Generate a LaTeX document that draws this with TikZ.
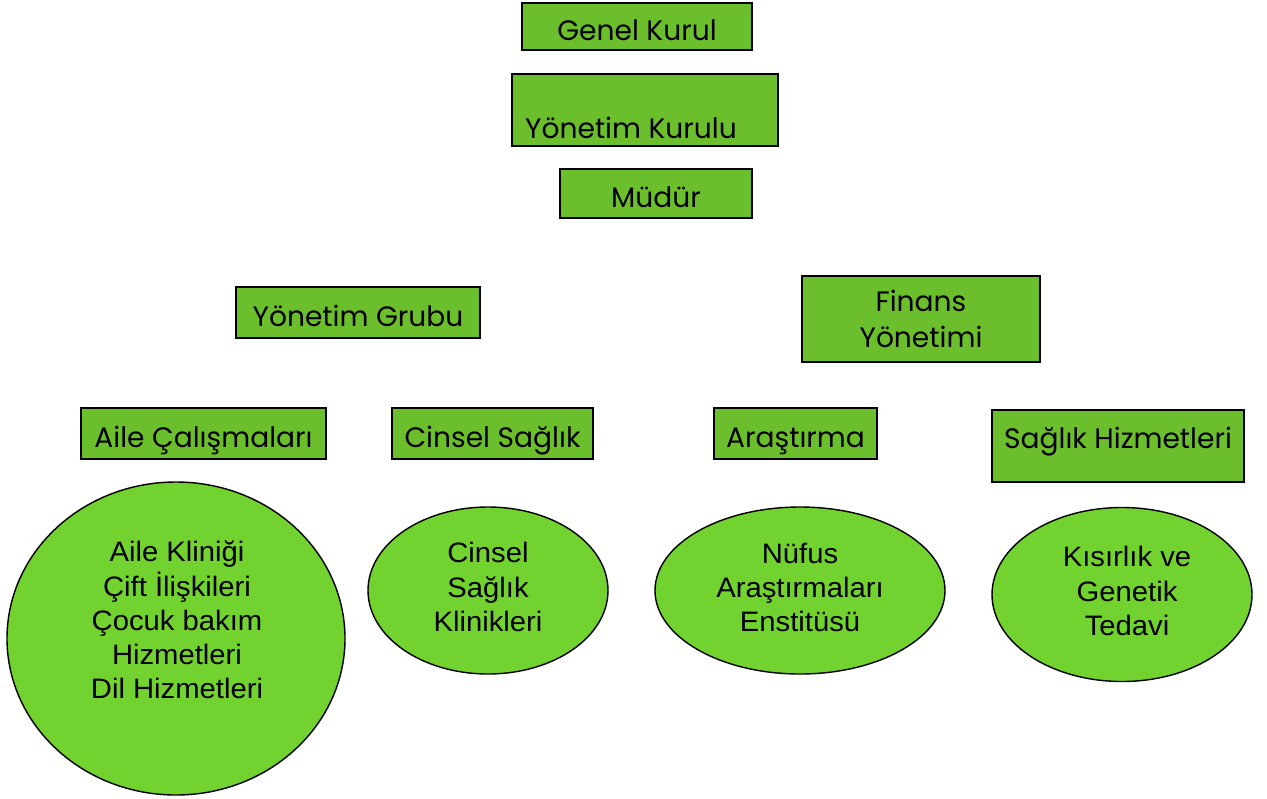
\documentclass[tikz,border=0pt]{standalone}
\usepackage{fontspec}
\setmainfont{Liberation Sans}
\newfontfamily\gothicfont{Poppins}
\newfontfamily\ovalfont[FakeStretch=1.04]{Liberation Sans}
\usetikzlibrary{shapes.geometric}
\definecolor{boxgreen}{HTML}{6BBE2C}
\definecolor{ovalgreen}{HTML}{72D22F}
\begin{document}
\begin{tikzpicture}[x=0.02cm,y=-0.02cm]
\tikzstyle{box}=[draw,line width=1.1pt,fill=boxgreen,inner sep=0pt,font=\gothicfont\fontsize{16}{20.7}\selectfont,align=center]
\tikzstyle{onerow}=[text height=15.7pt,text depth=0pt]
\tikzstyle{oval}=[draw,line width=0.8pt,ellipse,fill=ovalgreen,inner sep=0pt]
\tikzstyle{ovaltext}=[font=\ovalfont\fontsize{16}{19.45}\selectfont,align=center,inner sep=0pt]
\useasboundingbox (0,0) rectangle (1267,798);
% top of the chart
\node[box,onerow,minimum width=230*0.02cm,minimum height=47*0.02cm] (genel) at (637,26.5) {Genel Kurul};
\node[box,minimum width=266*0.02cm,minimum height=72*0.02cm] (ykurul) at (645,110) {};
\begin{scope}
\clip (ykurul.north west) rectangle (778,138.5);
\node[font=\gothicfont\fontsize{16}{20.7}\selectfont,inner sep=0pt,text height=32.6pt,text depth=0pt] (ykurultext) at (631,110) {Yönetim Kurulu};
\end{scope}
\node[box,onerow,minimum width=192*0.02cm,minimum height=49*0.02cm] (mudur) at (656,193.5) {Müdür};
% second row
\node[box,onerow,minimum width=244*0.02cm,minimum height=51*0.02cm] (ygrubu) at (358,312.5) {Yönetim Grubu};
\node[box,minimum width=238*0.02cm,minimum height=86*0.02cm] (finans) at (921,319) {Finans\\Yönetimi};
% departments
\node[box,onerow,minimum width=245*0.02cm,minimum height=51*0.02cm] (aile) at (203.5,433.5) {Aile Çalışmaları};
\node[box,onerow,minimum width=201*0.02cm,minimum height=51*0.02cm] (cinsel) at (492.5,433.5) {Cinsel Sağlık};
\node[box,onerow,minimum width=163*0.02cm,minimum height=51*0.02cm] (arastirma) at (795.5,433.5) {Araştırma};
\node[box,text height=15.7pt,text depth=12.4pt,minimum width=252*0.02cm,minimum height=72*0.02cm] (saglik) at (1118,446) {Sağlık Hizmetleri};
% units
\node[oval,minimum width=338*0.02cm,minimum height=313*0.02cm] (aileoval) at (176,638.5) {};
\node[ovaltext] (ailetext) at (177,620) {Aile Kliniği\\Çift İlişkileri\\Çocuk bakım\\Hizmetleri\\Dil Hizmetleri};
\node[oval,minimum width=240*0.02cm,minimum height=167*0.02cm] (cinseloval) at (488,590.5) {};
\node[ovaltext] (cinseltext) at (488,587) {Cinsel\\Sağlık\\Klinikleri};
\node[oval,minimum width=290*0.02cm,minimum height=167*0.02cm] (nufusoval) at (800,590.5) {};
\node[ovaltext] (nufustext) at (800,587.5) {Nüfus\\Araştırmaları\\Enstitüsü};
\node[oval,minimum width=260*0.02cm,minimum height=174*0.02cm] (kisiroval) at (1122,594.5) {};
\node[ovaltext] (kisirtext) at (1127,591) {Kısırlık ve\\Genetik\\Tedavi};
\end{tikzpicture}
\end{document}
